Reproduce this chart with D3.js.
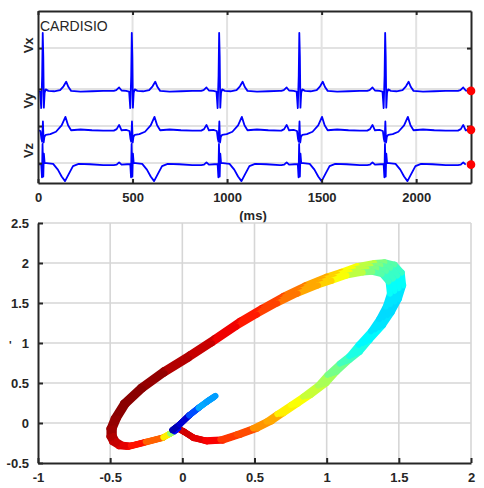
<!DOCTYPE html>
<html>
<head>
<meta charset="utf-8">
<script src="https://cdn.jsdelivr.net/npm/d3@7"></script>
<style>
  body { margin: 0; background: #fff; }
  text { font-family: "Liberation Sans Narrow", "Arial Narrow", "Liberation Sans", Arial, sans-serif; fill: #262626; }
</style>
</head>
<body>
<svg id="chart" width="484" height="488"></svg>
<script>
// ECG: R peak times (ms), last one is the beat that starts past the right edge
const beatTimes = [25, 496, 958, 1382, 1836, 2316];
const tEnd = 2290;

// one beat per lead: [ms from R peak, amplitude]
const vxBeat = [
  [-95, 0], [-82, 0.02], [-67, 0.09], [-54, 0.01], [-30, 0], [-14, -0.02], [-8, -0.45],
  [-3, 0.4], [0, 1.52], [3, 0.9], [6, -0.44], [10, -0.05], [16, 0.04], [30, 0],
  [60, -0.01], [92, 0.02], [110, 0.12], [124, 0.24], [136, 0.1], [150, 0],
  [200, -0.02], [260, -0.01], [320, 0]
];
const vyBeat = [
  [-95, 0.01], [-80, 0.05], [-67, 0.16], [-54, 0.02], [-30, 0.03], [-12, 0], [-7, -0.2],
  [-3, -0.28], [1, 0.25], [5, -0.3], [9, -0.15], [16, -0.1], [40, -0.08], [70, -0.02],
  [100, 0.15], [120, 0.37], [134, 0.15], [150, 0.02], [200, 0.04], [260, 0.02], [320, 0.01]
];
const vzBeat = [
  [-95, 0], [-80, 0.01], [-67, 0.07], [-54, 0.01], [-25, 0.02], [-8, 0.02], [-4, -0.32],
  [-1, 0.55], [3, -0.3], [6, 0.3], [10, 0.05], [20, 0.05], [55, 0.03], [80, -0.12],
  [100, -0.3], [118, -0.42], [136, -0.25], [160, -0.03], [190, 0.03], [250, 0.02], [320, 0]
];
const leadBeats = [vxBeat, vyBeat, vzBeat];
const leadOffsets = [2.41, 1.36, 0.47];
const leadNames = ["Vx", "Vy", "Vz"];
const leadLabelPos = [3.6, 2.15, 0.85];
const topGridY = [0.52, 1.49, 2.46, 3.53];
const topTicksX = [0, 500, 1000, 1500, 2000];

// vector loop: [x, y, colour value 0..1 on jet]
const loopPts = [
  [-0.03, -0.07, 0.93], [0.01, -0.11, 0.92], [0.08, -0.19, 0.9], [0.17, -0.23, 0.88],
  [0.28, -0.22, 0.82], [0.40, -0.15, 0.8], [0.52, -0.07, 0.73], [0.62, 0.02, 0.71],
  [0.70, 0.12, 0.64], [0.80, 0.24, 0.62], [0.89, 0.35, 0.57], [1.0, 0.50, 0.54],
  [1.07, 0.64, 0.49], [1.16, 0.79, 0.44], [1.23, 0.89, 0.4], [1.30, 1.04, 0.37],
  [1.39, 1.22, 0.35], [1.45, 1.38, 0.34], [1.50, 1.55, 0.35], [1.53, 1.72, 0.38],
  [1.52, 1.88, 0.43], [1.47, 1.98, 0.46], [1.40, 2.01, 0.5], [1.33, 2.0, 0.56],
  [1.21, 1.96, 0.62], [1.10, 1.89, 0.67], [1.0, 1.83, 0.71], [0.85, 1.72, 0.76],
  [0.70, 1.59, 0.81], [0.55, 1.44, 0.85], [0.40, 1.28, 0.89], [0.22, 1.06, 0.93],
  [0.05, 0.86, 0.95], [-0.13, 0.66, 0.98], [-0.29, 0.45, 0.99], [-0.41, 0.25, 0.99],
  [-0.475, 0.06, 0.98], [-0.505, -0.07, 0.97], [-0.505, -0.17, 0.95], [-0.485, -0.24, 0.93],
  [-0.44, -0.29, 0.9], [-0.38, -0.30, 0.86],
  [-0.27, -0.25, 0.78], [-0.14, -0.19, 0.64], [-0.09, -0.14, 0.52], [-0.06, -0.11, 0.12],
  [-0.03, -0.07, 0.1]
];
const tailPts = [
  [-0.07, -0.09, 0.05], [-0.02, -0.02, 0.08], [0.05, 0.1, 0.2], [0.12, 0.2, 0.29],
  [0.18, 0.28, 0.28], [0.23, 0.34, 0.2]
];
const loopGain = [1, 0.98, 0.96, 0.94];
const loopTicksX = [-1, -0.5, 0, 0.5, 1, 1.5, 2];
const loopTicksY = [-0.5, 0, 0.5, 1, 1.5, 2, 2.5];

const svg = d3.select("#chart");
const ink = "#262626";

// jet colormap
function jet(c) {
  let f = v => Math.round(255 * Math.max(0, Math.min(1, v)));
  return d3.rgb(f(1.5 - Math.abs(4 * c - 3)), f(1.5 - Math.abs(4 * c - 2)), f(1.5 - Math.abs(4 * c - 1))).toString();
}

function styleAxis(g) {
  g.selectAll("path").attr("stroke", ink).attr("stroke-width", 2);
  g.selectAll("line").attr("stroke", ink).attr("stroke-width", 2);
  g.selectAll("text").attr("fill", ink).style("font-size", "13px").style("font-weight", "bold");
}

// ---------- top panel ----------
const x = d3.scaleLinear().domain([0, tEnd]).range([38, 471]);
const y = d3.scaleLinear().domain([0, 4.5]).range([183, 11]);

let topG = svg.append("g");

topG.selectAll(".gx").data(topTicksX.slice(1)).enter()
  .append("line")
  .attr("x1", d => x(d)).attr("x2", d => x(d))
  .attr("y1", y(4.5)).attr("y2", y(0))
  .attr("stroke", "#e2e2e2").attr("stroke-width", 2);

topG.selectAll(".gy").data(topGridY).enter()
  .append("line")
  .attr("x1", x(0)).attr("x2", x(tEnd))
  .attr("y1", d => y(d)).attr("y2", d => y(d))
  .attr("stroke", "#e2e2e2").attr("stroke-width", 2);

svg.append("clipPath").attr("id", "topclip")
  .append("rect").attr("x", x(0)).attr("y", y(4.5)).attr("width", x(tEnd) - x(0)).attr("height", y(0) - y(4.5));

let line = d3.line().x(d => x(d[0])).y(d => y(d[1]));
let ends = [];

leadBeats.forEach(function(beat, i) {
  let pts = [];
  beatTimes.forEach(function(bt) {
    beat.forEach(function(p) { pts.push([bt + p[0], p[1] + leadOffsets[i]]); });
  });
  pts = pts.filter(p => p[0] <= tEnd).sort((a, b) => a[0] - b[0]);
  ends.push(pts[pts.length - 1]);

  topG.append("path")
    .datum(pts)
    .attr("clip-path", "url(#topclip)")
    .attr("fill", "none")
    .attr("stroke", "#0000ff")
    .attr("stroke-width", 1.8)
    .attr("stroke-linejoin", "round")
    .attr("d", line);
});

let gxb = topG.append("g").attr("transform", `translate(0,${y(0)})`)
  .call(d3.axisBottom(x).tickValues(topTicksX).tickSizeInner(-4).tickSizeOuter(0).tickPadding(10).tickFormat(d => String(d)));
styleAxis(gxb);
let gxt = topG.append("g").attr("transform", `translate(0,${y(4.5)})`)
  .call(d3.axisTop(x).tickValues(topTicksX).tickSizeInner(-4).tickSizeOuter(0).tickFormat(""));
styleAxis(gxt);
let gyl = topG.append("g").attr("transform", `translate(${x(0)},0)`)
  .call(d3.axisLeft(y).tickValues(topGridY).tickSizeInner(-4).tickSizeOuter(0).tickFormat(""));
styleAxis(gyl);
let gyr = topG.append("g").attr("transform", `translate(${x(tEnd)},0)`)
  .call(d3.axisRight(y).tickValues(topGridY).tickSizeInner(-4).tickSizeOuter(0).tickFormat(""));
styleAxis(gyr);

topG.selectAll(".dot").data(ends).enter()
  .append("circle")
  .attr("cx", x(tEnd)).attr("cy", d => y(d[1]))
  .attr("r", 4.3).attr("fill", "#ff0000");

topG.selectAll(".lead").data(leadNames).enter()
  .append("text")
  .attr("transform", (d, i) => `translate(33,${y(leadLabelPos[i])}) rotate(-90)`)
  .attr("text-anchor", "middle")
  .style("font-size", "13px").style("font-weight", "bold")
  .text(d => d);

topG.append("text").attr("x", 40).attr("y", 31)
  .style("font-size", "14px").text("CARDISIO");

topG.append("text").attr("x", 253).attr("y", 220).attr("text-anchor", "middle")
  .style("font-size", "13px").style("font-weight", "bold").text("(ms)");

// ---------- bottom panel ----------
const xs = d3.scaleLinear().domain([-1, 2]).range([38, 471]);
const ys = d3.scaleLinear().domain([-0.5, 2.5]).range([463, 223]);

let botG = svg.append("g");

botG.selectAll(".bgx").data(loopTicksX.slice(1)).enter()
  .append("line")
  .attr("x1", d => xs(d)).attr("x2", d => xs(d))
  .attr("y1", ys(2.5)).attr("y2", ys(-0.5))
  .attr("stroke", "#d6d6d6").attr("stroke-width", 1.6);

botG.selectAll(".bgy").data(loopTicksY.slice(1)).enter()
  .append("line")
  .attr("x1", xs(-1)).attr("x2", xs(2))
  .attr("y1", d => ys(d)).attr("y2", d => ys(d))
  .attr("stroke", "#d6d6d6").attr("stroke-width", 1.6);

function drawTrack(pts, width) {
  loopGain.forEach(function(g) {
    for (let i = 0; i < pts.length - 1; i++) {
      botG.append("line")
        .attr("x1", xs(pts[i][0] * g)).attr("y1", ys(pts[i][1] * g))
        .attr("x2", xs(pts[i + 1][0] * g)).attr("y2", ys(pts[i + 1][1] * g))
        .attr("stroke", jet(pts[i][2]))
        .attr("stroke-width", width)
        .attr("stroke-linecap", "round");
    }
  });
}
drawTrack(loopPts, 6);
drawTrack(tailPts, 6);

let bxb = botG.append("g").attr("transform", `translate(0,${ys(-0.5)})`)
  .call(d3.axisBottom(xs).tickValues(loopTicksX).tickSizeInner(-5).tickSizeOuter(0).tickPadding(10).tickFormat(d => String(d)));
styleAxis(bxb);
let byl = botG.append("g").attr("transform", `translate(${xs(-1)},0)`)
  .call(d3.axisLeft(ys).tickValues(loopTicksY).tickSizeInner(-5).tickSizeOuter(0).tickPadding(9).tickFormat(d => String(d)));
styleAxis(byl);

botG.append("text").attr("x", 9).attr("y", 349)
  .style("font-size", "11px").style("font-weight", "bold").text("'");
</script>
</body>
</html>
